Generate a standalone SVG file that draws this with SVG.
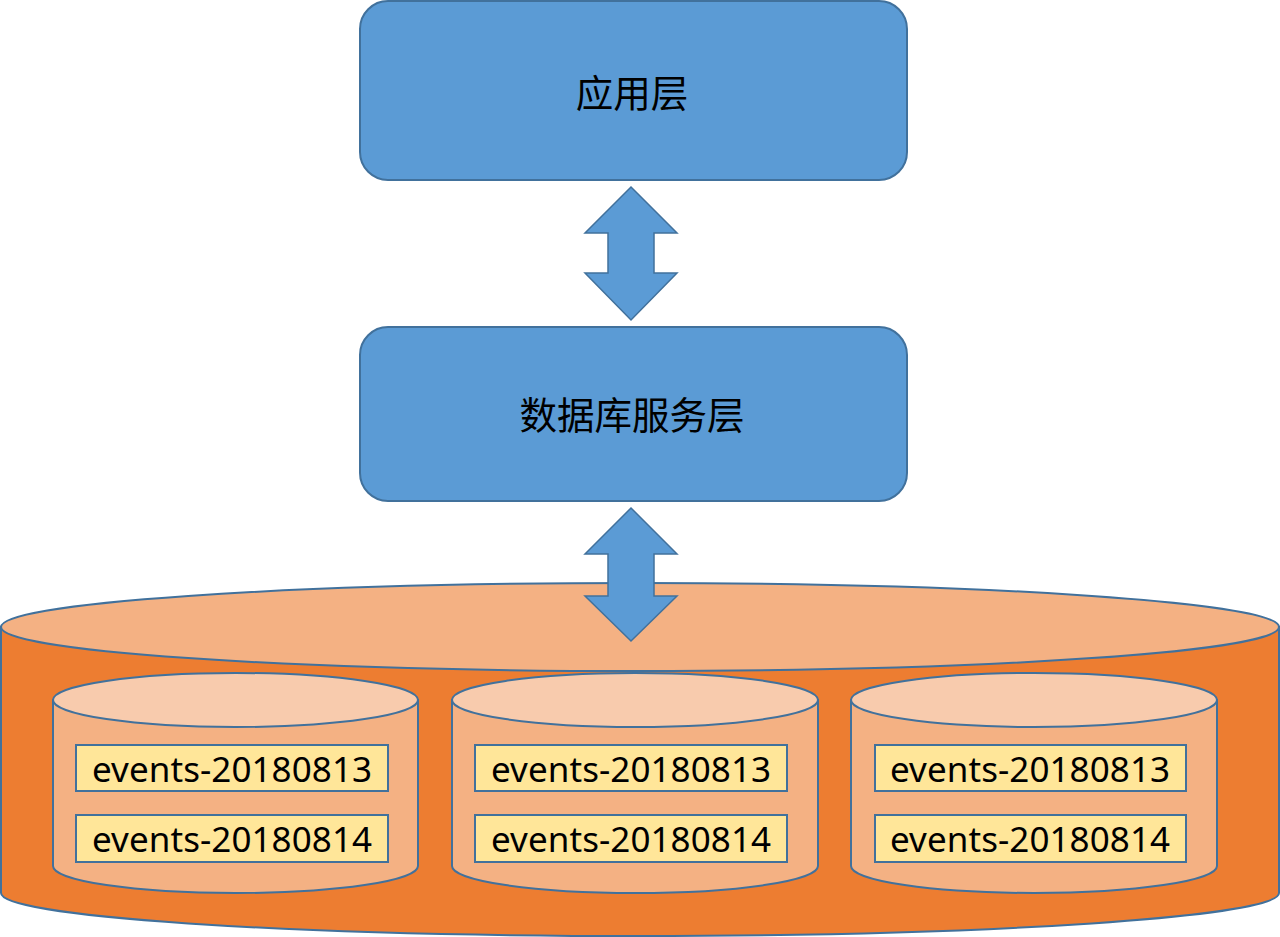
<svg xmlns="http://www.w3.org/2000/svg" width="1280" height="937" viewBox="0 0 1280 937">
<style>
.box{fill:#5B9BD5;stroke:#41719C;stroke-width:2}
.arrow{fill:#5B9BD5;stroke:#41719C;stroke-width:1.5;stroke-linejoin:miter}
.cn{font-family:"Noto Sans CJK SC","Noto Sans",sans-serif;font-size:37.5px;fill:#000;text-anchor:middle}
.lbl{fill:#FFE699;stroke:#41719C;stroke-width:2}
.en{font-family:"Noto Sans","Noto Sans CJK SC",sans-serif;font-size:35px;fill:#000;text-anchor:middle}
.bigside{fill:#ED7D31;stroke:#41719C;stroke-width:2}
.bigtop{fill:#F4B183;stroke:#41719C;stroke-width:2}
.smside{fill:#F4B183;stroke:#41719C;stroke-width:2}
.smtop{fill:#F8CBAD;stroke:#41719C;stroke-width:2}
</style>
<rect width="1280" height="937" fill="#fff"/>
<g id="storage">
<path class="bigside" d="M1,627 L1,893 A639,43 0 0 0 1279,893 L1279,627 Z"/>
<ellipse class="bigtop" cx="640" cy="627" rx="639" ry="44"/>
</g>
<g id="app">
<rect class="box" x="360" y="1" width="547" height="179" rx="28"/>
<text class="cn" x="632" y="107">应用层</text>
</g>
<g id="dbservice">
<rect class="box" x="360" y="327" width="547" height="174" rx="28"/>
<text class="cn" x="632" y="429">数据库服务层</text>
</g>
<g id="connectors">
<path class="arrow" d="M631,187 L677,233 L654,233 L654,273 L677,273 L631,320 L585,273 L608,273 L608,233 L585,233 Z"/>
<path class="arrow" d="M631,508 L677,554 L654,554 L654,596 L677,596 L631,641 L585,596 L608,596 L608,554 L585,554 Z"/>
</g>
<g id="node1">
<path class="smside" d="M53,700 L53,866 A182.5,27 0 0 0 418,866 L418,700 Z"/>
<ellipse class="smtop" cx="235.5" cy="700" rx="182.5" ry="27"/>
<rect class="lbl" x="76" y="745" width="312" height="46"/>
<text class="en" x="232" y="782" textLength="280" lengthAdjust="spacing">events-20180813</text>
<rect class="lbl" x="76" y="815" width="312" height="47"/>
<text class="en" x="232" y="852" textLength="280" lengthAdjust="spacing">events-20180814</text>
</g>
<g id="node2">
<path class="smside" d="M452,700 L452,866 A183,27 0 0 0 818,866 L818,700 Z"/>
<ellipse class="smtop" cx="635" cy="700" rx="183" ry="27"/>
<rect class="lbl" x="475" y="745" width="312" height="46"/>
<text class="en" x="631" y="782" textLength="280" lengthAdjust="spacing">events-20180813</text>
<rect class="lbl" x="475" y="815" width="312" height="47"/>
<text class="en" x="631" y="852" textLength="280" lengthAdjust="spacing">events-20180814</text>
</g>
<g id="node3">
<path class="smside" d="M851,700 L851,866 A183,27 0 0 0 1217,866 L1217,700 Z"/>
<ellipse class="smtop" cx="1034" cy="700" rx="183" ry="27"/>
<rect class="lbl" x="875" y="745" width="311" height="46"/>
<text class="en" x="1030" y="782" textLength="280" lengthAdjust="spacing">events-20180813</text>
<rect class="lbl" x="875" y="815" width="311" height="47"/>
<text class="en" x="1030" y="852" textLength="280" lengthAdjust="spacing">events-20180814</text>
</g>
</svg>
